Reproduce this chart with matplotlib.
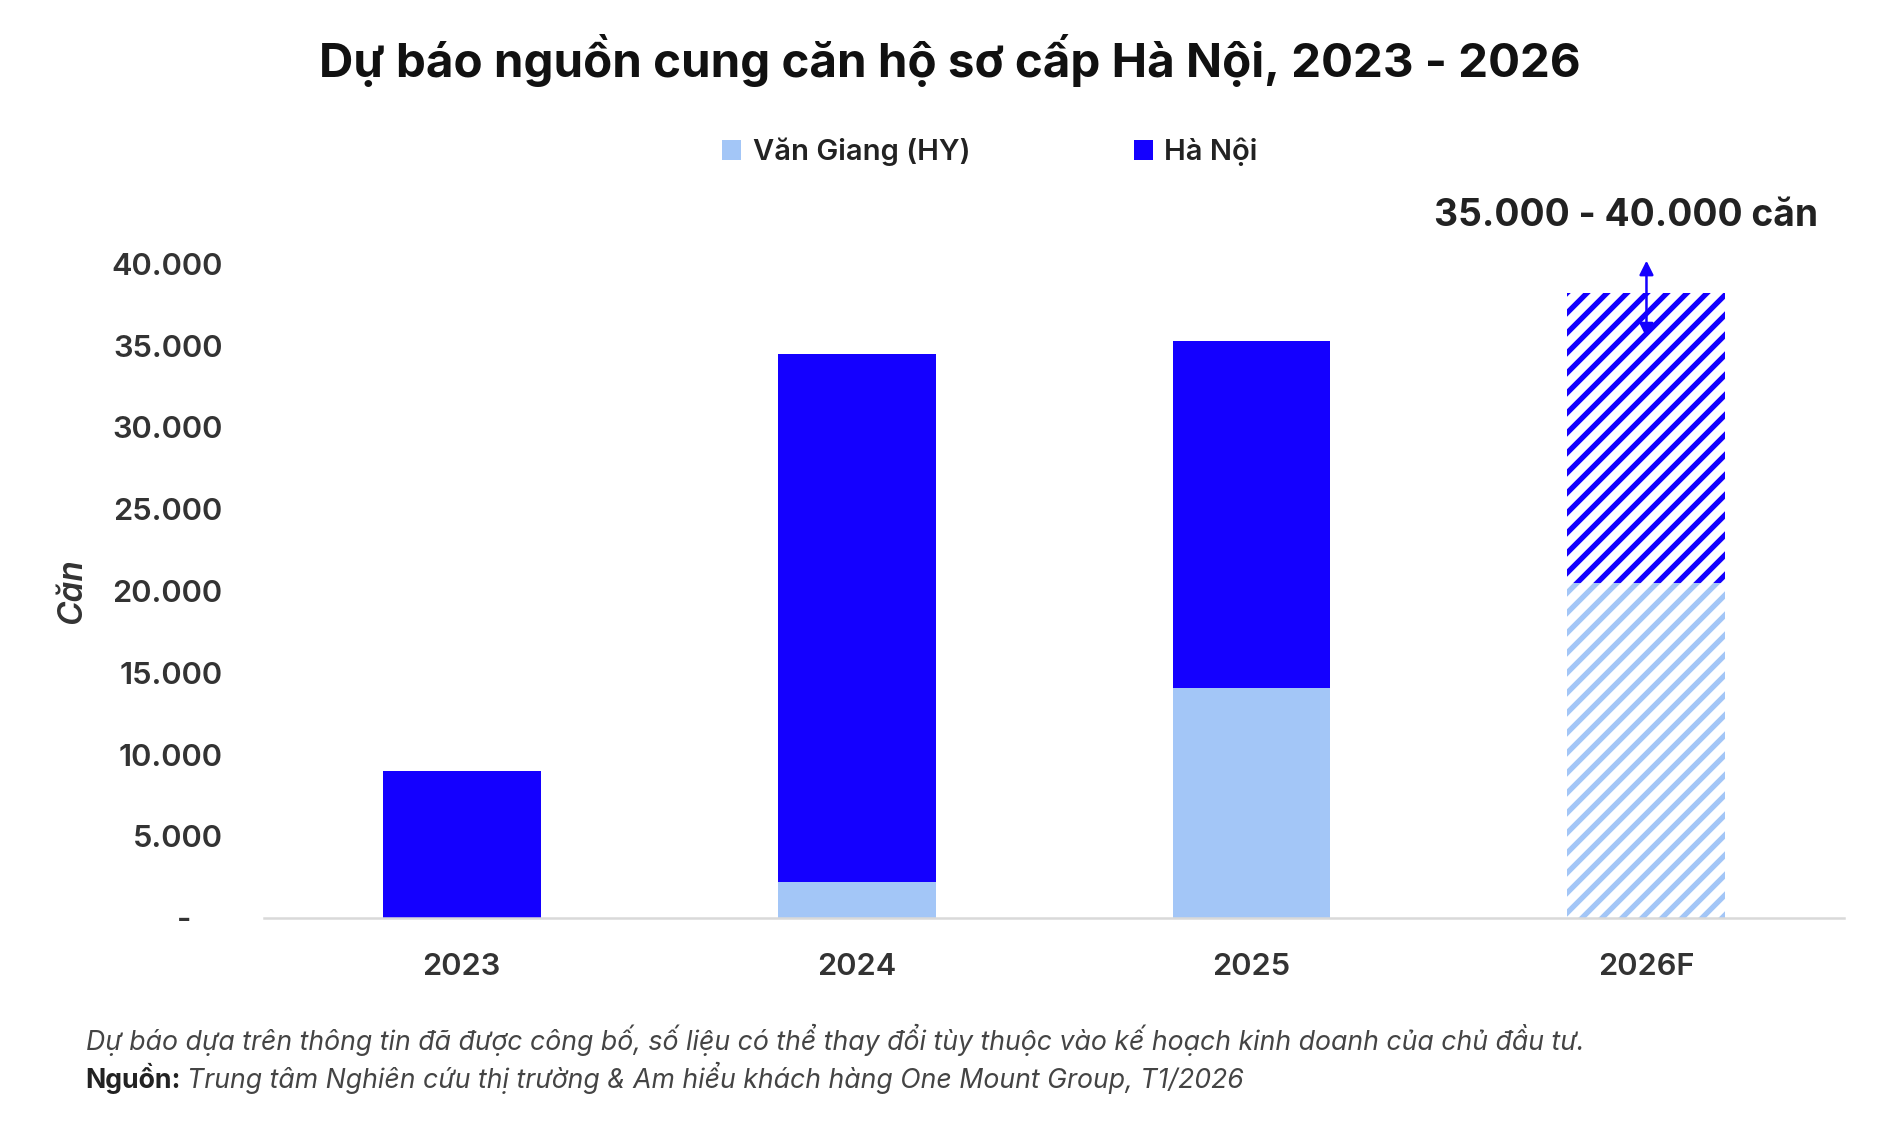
import numpy as np
import matplotlib
matplotlib.use("Agg")
import matplotlib.pyplot as plt
from matplotlib.ticker import FuncFormatter

# Dữ liệu (căn)
nam = ["2023", "2024", "2025", "2026F"]
van_giang = [0, 2200, 14100, 20500]
ha_noi = [9000, 32300, 21200, 17700]
yticks = [0, 5000, 10000, 15000, 20000, 25000, 30000, 35000, 40000]
khoang_du_bao = [35300, 40400]

mau_vg = "#a3c6f7"
mau_hn = "#1400ff"

plt.rcParams['font.family'] = ['Inter', 'DejaVu Sans']
plt.rcParams['hatch.linewidth'] = 3.2

fig = plt.figure(figsize=(1900 / 120, 1135 / 120), dpi=120)
ax = fig.add_axes([0.139, 0.191, 0.8315, 0.5765])

x = np.arange(len(nam))
b1 = ax.bar(x, van_giang, width=0.4, color=mau_vg, label="Văn Giang (HY)")
b2 = ax.bar(x, ha_noi, width=0.4, bottom=van_giang, color=mau_hn, label="Hà Nội")

# cột dự báo: sọc chéo
for p, c in [(b1.patches[-1], mau_vg), (b2.patches[-1], mau_hn)]:
    p.set_facecolor("white")
    p.set_edgecolor(c)
    p.set_hatch("//")
    p.set_linewidth(0)

ax.set_xlim(-0.5, 3.5)
ax.set_ylim(0, 40000)
ax.set_xticks(x)
ax.set_xticklabels(nam, fontsize=18.5, fontweight="semibold", color="#333333")
ax.set_yticks(yticks)
ax.yaxis.set_major_formatter(FuncFormatter(
    lambda v, p: "-    " if v == 0 else f"{int(v):,}".replace(",", ".")))
for t in ax.get_yticklabels():
    t.set_fontsize(18.5)
    t.set_fontweight("semibold")
    t.set_color("#333333")
ax.tick_params(axis="both", length=0)
ax.tick_params(axis="x", pad=21)
ax.tick_params(axis="y", pad=25)
for s in ["top", "right", "left"]:
    ax.spines[s].set_visible(False)
ax.spines["bottom"].set_color("#d9d9d9")
ax.spines["bottom"].set_linewidth(1.5)

ax.set_ylabel("Căn", fontsize=20, fontstyle="italic", fontweight="semibold",
              color="#333333", labelpad=14)

# mũi tên khoảng dự báo
ax.annotate("", xy=(3, khoang_du_bao[1]), xytext=(3, khoang_du_bao[0]),
            arrowprops=dict(arrowstyle="<|-|>,head_length=0.7,head_width=0.35",
                            color=mau_hn, lw=1.5), annotation_clip=False)
fig.text(0.856, 0.81, "35.000 - 40.000 căn", ha="center", va="center",
         fontsize=22.3, fontweight="bold", color="#222222")

fig.text(0.5, 0.9466, "Dự báo nguồn cung căn hộ sơ cấp Hà Nội, 2023 - 2026",
         ha="center", va="center", fontsize=28.5, fontweight="bold", color="#111111")

fig.legend(handles=[b1, b2], loc="center", bbox_to_anchor=(0.521, 0.866),
           ncol=2, frameon=False, fontsize=17.5, handlelength=0.65,
           handleheight=0.65, handletextpad=0.4, columnspacing=5.6)
for t in fig.legends[0].get_texts():
    t.set_fontweight("semibold")
    t.set_color("#222222")

fig.text(0.045, 0.084,
         "Dự báo dựa trên thông tin đã được công bố, số liệu có thể thay đổi tùy thuộc vào kế hoạch kinh doanh của chủ đầu tư.",
         ha="left", va="center", fontsize=16, fontstyle="italic", color="#444444")
t1 = fig.text(0.045, 0.05, "Nguồn:", ha="left", va="center", fontsize=16,
              fontweight="bold", color="#222222")
fig.canvas.draw()
bb = t1.get_window_extent()
fig.text(bb.x1 / fig.bbox.width + 0.003, 0.05,
         "Trung tâm Nghiên cứu thị trường & Am hiểu khách hàng One Mount Group, T1/2026",
         ha="left", va="center", fontsize=16, fontstyle="italic", color="#444444")

fig.savefig("out.png", dpi=120)
